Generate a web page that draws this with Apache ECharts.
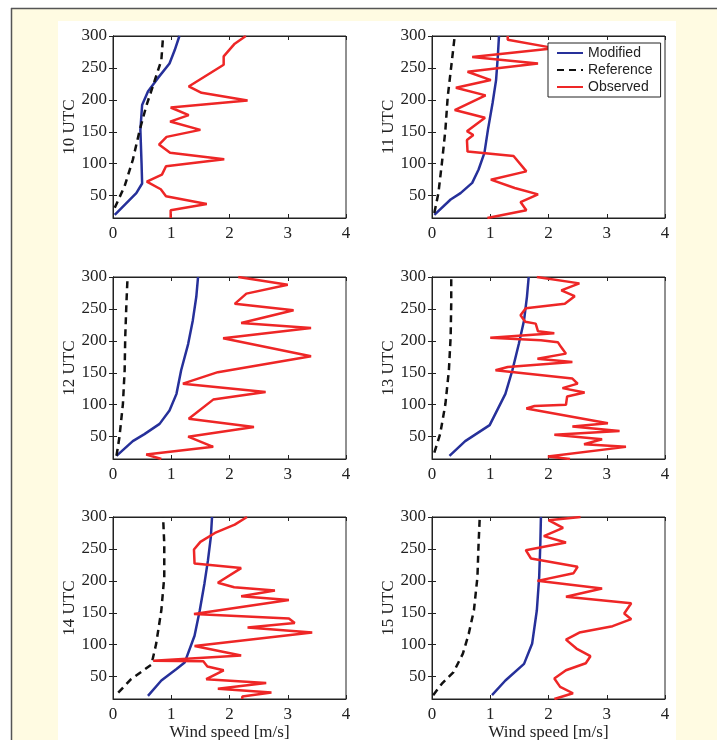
<!DOCTYPE html>
<html>
<head>
<meta charset="utf-8">
<script src="https://cdn.jsdelivr.net/npm/echarts@6/dist/echarts.min.js"></script>
<style>html,body{margin:0;padding:0;background:#fff}#c{width:717px;height:740px}</style>
</head>
<body>
<div id="c"></div>
<script>
// ---- data: [wind speed m/s, height m] ----
const panelTitles = ['10 UTC','11 UTC','12 UTC','13 UTC','14 UTC','15 UTC'];
const xTicks = [0,1,2,3,4];
const yTicks = [50,100,150,200,250,300];
const seriesNames = ['Modified','Reference','Observed'];

const mod10 = [[0.03,20],[0.4,54],[0.5,69],[0.49,101],[0.47,153],[0.5,192],[0.6,213],[0.77,234],[0.97,257],[1.06,278],[1.14,300]];
const ref10 = [[0.03,31],[0.2,65],[0.34,106],[0.46,153],[0.57,190],[0.69,223],[0.83,262],[0.86,300]];
const obs10 = [[0.99,15],[0.99,27],[1.61,37],[0.91,49],[0.82,60],[0.58,72],[0.84,83],[0.91,96],[1.91,107],[0.98,117],[0.79,130],[0.92,142],[1.5,153],[0.98,166],[1.3,176],[0.99,188],[2.31,199],[1.52,211],[1.3,221],[1.9,255],[1.9,268],[2.09,288],[2.28,300]];

const mod11 = [[0.04,20],[0.32,44],[0.49,54],[0.69,70],[0.8,91],[0.9,117],[0.96,153],[1.04,195],[1.1,231],[1.13,268],[1.15,300]];
const ref11 = [[0.04,23],[0.11,54],[0.17,101],[0.23,153],[0.27,205],[0.33,252],[0.39,300]];
const obs11 = [[0.95,15],[1.62,27],[1.52,40],[1.82,52],[1.42,62],[1.01,75],[1.62,88],[1.4,112],[0.61,119],[0.6,137],[0.71,145],[0.6,151],[0.91,172],[0.39,184],[0.92,207],[0.41,219],[1.01,231],[0.61,244],[1.82,257],[0.69,267],[2.1,281],[1.3,294],[1.3,300]];

const mod12 = [[0.06,20],[0.34,43],[0.54,54],[0.8,70],[0.97,91],[1.09,117],[1.17,154],[1.29,195],[1.37,232],[1.43,269],[1.46,300]];
const ref12 = [[0.06,20],[0.11,49],[0.17,101],[0.2,154],[0.21,206],[0.23,258],[0.25,300]];
const obs12 = [[0.83,15],[0.57,22],[1.72,34],[1.29,50],[2.42,65],[1.3,78],[1.72,108],[2.62,120],[1.2,133],[1.8,151],[3.4,176],[1.89,204],[3.4,220],[2.2,228],[3.1,248],[2.09,258],[2.29,274],[3.0,288],[2.15,300]];

const mod13 = [[0.3,20],[0.57,43],[0.99,68],[1.26,117],[1.38,154],[1.49,195],[1.58,232],[1.63,269],[1.66,300]];
const ref13 = [[0.04,25],[0.14,54],[0.23,101],[0.29,154],[0.32,206],[0.33,258],[0.33,300]];
const obs13 = [[2.37,15],[1.99,19],[3.33,34],[2.61,38],[2.92,46],[2.1,53],[3.22,59],[2.41,66],[3.02,71],[1.62,94],[1.76,98],[2.3,100],[2.32,113],[2.62,119],[2.24,126],[2.5,133],[2.41,141],[1.09,154],[1.3,159],[2.41,167],[1.81,172],[2.3,180],[2.21,191],[2.16,198],[1.87,201],[1.0,205],[2.1,212],[1.82,215],[1.78,227],[1.6,230],[1.52,240],[1.61,251],[2.28,258],[2.45,270],[2.22,279],[2.53,290],[1.8,300]];

const mod14 = [[0.6,20],[0.83,44],[1.09,62],[1.23,72],[1.4,114],[1.49,154],[1.57,196],[1.63,232],[1.68,269],[1.7,300]];
const ref14 = [[0.09,25],[0.31,46],[0.66,69],[0.74,101],[0.83,154],[0.88,206],[0.88,258],[0.86,300]];
const obs14 = [[2.22,15],[2.22,19],[2.72,25],[1.8,31],[2.63,40],[1.6,46],[1.9,60],[1.62,66],[1.55,74],[0.69,75],[2.2,83],[1.4,98],[3.42,119],[2.31,127],[3.12,134],[3.02,141],[1.39,148],[3.02,170],[2.2,176],[2.78,185],[2.08,190],[1.8,197],[2.2,220],[1.4,227],[1.39,249],[1.5,261],[1.75,275],[2.09,288],[2.3,300]];

const mod15 = [[1.03,21],[1.26,44],[1.58,70],[1.72,102],[1.8,154],[1.84,206],[1.86,259],[1.87,300]];
const ref15 = [[0.02,21],[0.17,39],[0.37,57],[0.53,86],[0.63,117],[0.72,154],[0.78,206],[0.8,259],[0.82,300]];
const obs15 = [[2.1,15],[2.42,24],[2.2,34],[2.1,47],[2.3,60],[2.64,71],[2.72,82],[2.48,94],[2.3,108],[2.53,119],[3.1,129],[3.42,140],[3.3,149],[3.42,165],[2.3,175],[2.92,188],[1.81,200],[2.43,212],[2.5,222],[1.7,235],[1.61,248],[2.3,260],[1.92,270],[2.25,283],[2.0,295],[2.55,300]];

const modified = [mod10, mod11, mod12, mod13, mod14, mod15];
const reference = [ref10, ref11, ref12, ref13, ref14, ref15];
const observed = [obs10, obs11, obs12, obs13, obs14, obs15];

// ---- layout ----
const colLeft = [113, 432];
const rowTop = [36, 277, 517];
const plotW = 233, plotH = 182;
const serif = 'Liberation Serif';
const axisColor = '#222';

const grids = [], xAxes = [], yAxes = [], series = [];
for (let i = 0; i < 6; i++) {
  const c = i % 2, r = Math.floor(i / 2);
  grids.push({left: colLeft[c], top: rowTop[r], width: plotW, height: plotH,
    outerBoundsMode: 'none', containLabel: false,
    show: true, borderColor: axisColor, borderWidth: 1, backgroundColor: '#fff'});
  const common = {type: 'value', gridIndex: i, min: 0, max: 4, interval: 1,
    splitLine: {show: false}, axisLine: {show: true, lineStyle: {color: axisColor, width: 1}},
    axisTick: {show: true, inside: true, length: 4, lineStyle: {color: axisColor}}};
  xAxes.push(Object.assign({}, common, {position: 'bottom',
    axisLabel: {show: true, fontFamily: serif, fontSize: 17, color: '#222', margin: 7,
      formatter: v => xTicks.includes(v) ? String(v) : ''},
    name: r === 2 ? 'Wind speed [m/s]' : '', nameLocation: 'middle', nameGap: 25,
    nameTextStyle: {fontFamily: serif, fontSize: 17, color: '#222'}}));
  xAxes.push(Object.assign({}, common, {position: 'top', axisLabel: {show: false}}));
  const ycommon = {type: 'value', gridIndex: i, min: 15, max: 300,
    splitLine: {show: false}, axisLine: {show: true, lineStyle: {color: axisColor, width: 1}},
    axisTick: {show: true, inside: true, length: 4, customValues: yTicks, lineStyle: {color: axisColor}}};
  yAxes.push(Object.assign({}, ycommon, {position: 'left',
    axisLabel: {show: true, customValues: yTicks, fontFamily: serif, fontSize: 17, color: '#222', margin: 6},
    name: panelTitles[i], nameLocation: 'middle', nameGap: 33, nameRotate: 90,
    nameTextStyle: {fontFamily: serif, fontSize: 17, color: '#222'}}));
  yAxes.push(Object.assign({}, ycommon, {position: 'right', axisLabel: {show: false}}));

  const base = {type: 'line', xAxisIndex: 2 * i, yAxisIndex: 2 * i, symbol: 'none',
    silent: true, animation: false, clip: true};
  series.push(Object.assign({}, base, {name: seriesNames[0], data: modified[i],
    lineStyle: {color: '#26309a', width: 2.5}, itemStyle: {color: '#26309a'}}));
  series.push(Object.assign({}, base, {name: seriesNames[1], data: reference[i],
    lineStyle: {color: '#111', width: 2.5, type: [7, 5]}, itemStyle: {color: '#111'}}));
  series.push(Object.assign({}, base, {name: seriesNames[2], data: observed[i],
    lineStyle: {color: '#ee2626', width: 2.5}, itemStyle: {color: '#ee2626'}}));
}

const chart = echarts.init(document.getElementById('c'), null, {renderer: 'canvas'});
chart.setOption({
  animation: false,
  backgroundColor: '#fff',
  graphic: [
    {type: 'rect', z: -10, shape: {x: 11, y: 8, width: 706, height: 732},
      style: {fill: '#fffbe2', stroke: null}},
    {type: 'rect', z: -9, shape: {x: 58, y: 21, width: 618, height: 719},
      style: {fill: '#fff'}},
    {type: 'line', z: -8, shape: {x1: 11, y1: 8.5, x2: 717, y2: 8.5}, style: {stroke: '#555', lineWidth: 1.5}},
    {type: 'line', z: -8, shape: {x1: 11.5, y1: 8, x2: 11.5, y2: 740}, style: {stroke: '#555', lineWidth: 1.5}}
  ],
  grid: grids,
  xAxis: xAxes,
  yAxis: yAxes,
  legend: {
    data: seriesNames, orient: 'vertical', left: 548, top: 43,
    itemWidth: 26, itemHeight: 13, itemGap: 3,
    padding: [3, 8, 3, 8],
    backgroundColor: '#fff', borderColor: '#222', borderWidth: 1,
    itemStyle: {opacity: 0, color: 'transparent', borderColor: 'transparent', borderWidth: 0},
    textStyle: {fontFamily: 'Liberation Sans', fontSize: 14, color: '#222'},
    selectedMode: false
  },
  series: series
});
</script>
</body>
</html>
